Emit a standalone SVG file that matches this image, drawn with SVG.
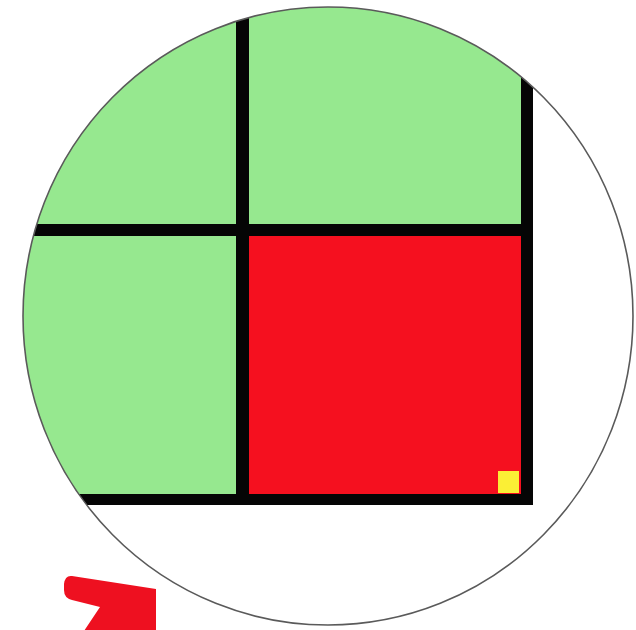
<svg xmlns="http://www.w3.org/2000/svg" width="636" height="630" viewBox="0 0 636 630">
  <defs>
    <clipPath id="disc">
      <ellipse cx="328" cy="316" rx="305" ry="309"/>
    </clipPath>
    <style>
      .bar { fill: #050505; }
    </style>
  </defs>
  <rect width="636" height="630" fill="#ffffff"/>
  <g id="inside" clip-path="url(#disc)">
    <rect id="green" x="0" y="0" width="522" height="495" fill="#96e88f"/>
    <rect id="red" x="249" y="236" width="273" height="259" fill="#f5101f"/>
    <rect id="yellow" x="498" y="471" width="21" height="22" fill="#fbef35"/>
    <rect class="bar" x="236" y="0" width="13" height="505"/>
    <rect class="bar" x="0" y="224" width="533" height="12"/>
    <rect class="bar" x="521" y="0" width="12" height="505"/>
    <rect class="bar" x="0" y="494" width="533" height="11"/>
  </g>
  <ellipse id="circle" cx="328" cy="316" rx="305" ry="309" fill="none" stroke="#5a5a5a" stroke-width="1.6"/>
  <path id="arrow" d="M72,576 L156,589 L156,640 L78,640 L100,607 L72,600 Q64,598 64,590 L64,584 Q65,575 72,576 Z" fill="#ee1020"/>
</svg>
